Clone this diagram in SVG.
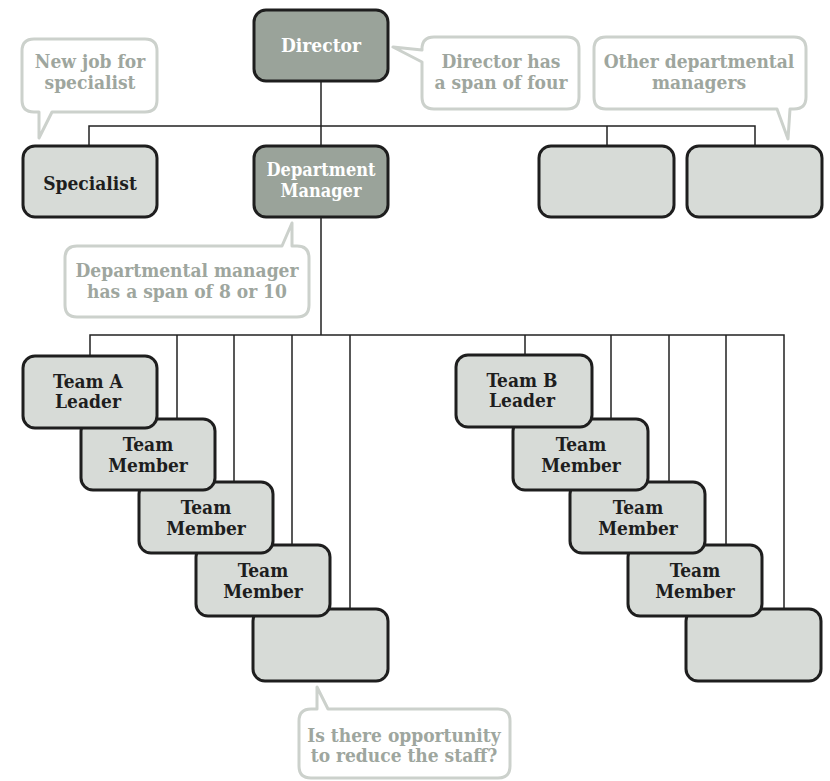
<svg xmlns="http://www.w3.org/2000/svg" width="830" height="781" viewBox="0 0 830 781">
  <style>
    .node { stroke: #1e1e1e; stroke-width: 3; }
    .light { fill: #d7dbd7; }
    .dark { fill: #9aa39a; }
    .lbl { font-family: "DejaVu Serif Condensed", "DejaVu Serif", serif; font-stretch: condensed; font-weight: bold; font-size: 19px; text-anchor: middle; fill: #1e1e1e; }
    .lbl.inv { fill: #ffffff; }
    .note { fill: #ffffff; stroke: #ccd1cc; stroke-width: 3; stroke-linejoin: round; }
    .ntxt { font-family: "DejaVu Serif Condensed", "DejaVu Serif", serif; font-stretch: condensed; font-weight: bold; font-size: 19px; text-anchor: middle; fill: #9ea69e; }
    .wire { fill: none; stroke: #222222; stroke-width: 1.5; }
  </style>

  <!-- connectors -->
  <g id="connectors">
    <path class="wire" d="M321,81 V146 M89,146 V126 H755 V146 M607,126 V146"/>
    <path class="wire" d="M321,217 V335 M90,356 V335 H784 V609"/>
    <path class="wire" d="M177,335 V419 M234,335 V482 M292,335 V545 M350,335 V609"/>
    <path class="wire" d="M525,335 V355 M611,335 V419 M669,335 V482 M726,335 V545"/>
  </g>

  <!-- top level -->
  <g id="director">
    <rect class="node dark" x="254" y="10" width="134" height="71" rx="12"/>
    <text class="lbl inv" x="321" y="52">Director</text>
  </g>
  <g id="specialist">
    <rect class="node light" x="23" y="146" width="134" height="71" rx="12"/>
    <text class="lbl" x="90" y="190">Specialist</text>
  </g>
  <g id="department-manager">
    <rect class="node dark" x="254" y="146" width="134" height="71" rx="12"/>
    <text class="lbl inv" x="321" y="176" style="font-size:18px">Department</text>
    <text class="lbl inv" x="321" y="197" style="font-size:18px">Manager</text>
  </g>
  <g id="other-manager-1">
    <rect class="node light" x="539" y="146" width="135" height="71" rx="12"/>
  </g>
  <g id="other-manager-2">
    <rect class="node light" x="687" y="146" width="135" height="71" rx="12"/>
  </g>

  <!-- team A, drawn back to front -->
  <g id="team-a-extra">
    <rect class="node light" x="253" y="609" width="135" height="72" rx="12"/>
  </g>
  <g id="team-a-member-3">
    <rect class="node light" x="196" y="545" width="134" height="71" rx="12"/>
    <text class="lbl" x="263" y="577">Team</text>
    <text class="lbl" x="263" y="598">Member</text>
  </g>
  <g id="team-a-member-2">
    <rect class="node light" x="139" y="482" width="134" height="71" rx="12"/>
    <text class="lbl" x="206" y="514">Team</text>
    <text class="lbl" x="206" y="535">Member</text>
  </g>
  <g id="team-a-member-1">
    <rect class="node light" x="81" y="419" width="134" height="71" rx="12"/>
    <text class="lbl" x="148" y="451">Team</text>
    <text class="lbl" x="148" y="472">Member</text>
  </g>
  <g id="team-a-leader">
    <rect class="node light" x="23" y="356" width="134" height="72" rx="12"/>
    <text class="lbl" x="88" y="388">Team A</text>
    <text class="lbl" x="88" y="408">Leader</text>
  </g>

  <!-- team B, drawn back to front -->
  <g id="team-b-extra">
    <rect class="node light" x="686" y="609" width="135" height="72" rx="12"/>
  </g>
  <g id="team-b-member-3">
    <rect class="node light" x="628" y="545" width="134" height="71" rx="12"/>
    <text class="lbl" x="695" y="577">Team</text>
    <text class="lbl" x="695" y="598">Member</text>
  </g>
  <g id="team-b-member-2">
    <rect class="node light" x="570" y="482" width="135" height="71" rx="12"/>
    <text class="lbl" x="638" y="514">Team</text>
    <text class="lbl" x="638" y="535">Member</text>
  </g>
  <g id="team-b-member-1">
    <rect class="node light" x="513" y="419" width="135" height="71" rx="12"/>
    <text class="lbl" x="581" y="451">Team</text>
    <text class="lbl" x="581" y="472">Member</text>
  </g>
  <g id="team-b-leader">
    <rect class="node light" x="456" y="355" width="136" height="72" rx="12"/>
    <text class="lbl" x="522" y="387">Team B</text>
    <text class="lbl" x="522" y="407">Leader</text>
  </g>

  <!-- speech-bubble notes -->
  <g id="note-specialist">
    <path class="note" d="M34,39 H145 Q157,39 157,51 V100 Q157,112 145,112 H52 L39,138 V112 H34 Q22,112 22,100 V51 Q22,39 34,39 Z"/>
    <text class="ntxt" x="90" y="68">New job for</text>
    <text class="ntxt" x="90" y="89">specialist</text>
  </g>
  <g id="note-director">
    <path class="note" d="M434,37 H567 Q579,37 579,49 V97 Q579,109 567,109 H434 Q422,109 422,97 V62 L393,47 L422,50 V49 Q422,37 434,37 Z"/>
    <text class="ntxt" x="501" y="68">Director has</text>
    <text class="ntxt" x="501" y="89">a span of four</text>
  </g>
  <g id="note-others">
    <path class="note" d="M606,37 H794 Q806,37 806,49 V97 Q806,109 794,109 H790 L788,139 L777,109 H606 Q594,109 594,97 V49 Q594,37 606,37 Z"/>
    <text class="ntxt" x="699" y="68">Other departmental</text>
    <text class="ntxt" x="699" y="89">managers</text>
  </g>
  <g id="note-manager">
    <path class="note" d="M77,246 H282 L292,223 V246 H297 Q309,246 309,258 V305 Q309,317 297,317 H77 Q65,317 65,305 V258 Q65,246 77,246 Z"/>
    <text class="ntxt" x="187" y="277">Departmental manager</text>
    <text class="ntxt" x="187" y="298">has a span of 8 or 10</text>
  </g>
  <g id="note-staff">
    <path class="note" d="M311,709 H317 V687 L328,709 H498 Q510,709 510,721 V766 Q510,778 498,778 H311 Q299,778 299,766 V721 Q299,709 311,709 Z"/>
    <text class="ntxt" x="404" y="742">Is there opportunity</text>
    <text class="ntxt" x="404" y="762">to reduce the staff?</text>
  </g>
</svg>
